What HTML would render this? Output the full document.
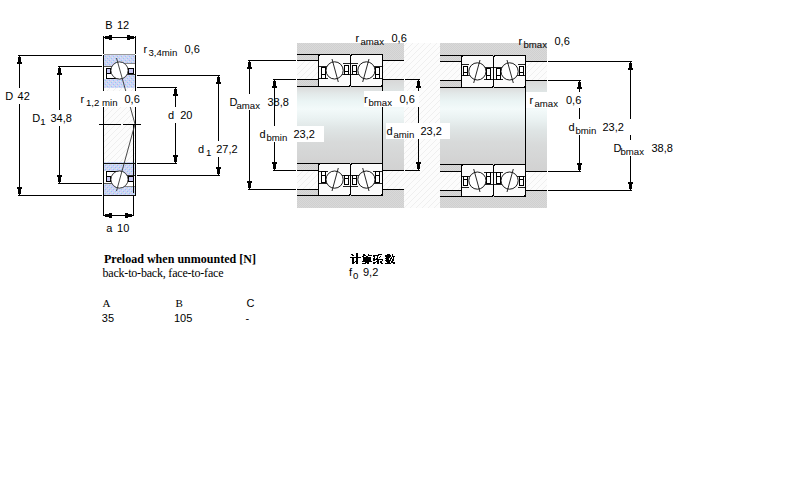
<!DOCTYPE html>
<html><head><meta charset="utf-8"><style>
html,body{margin:0;padding:0;background:#fff;width:800px;height:500px;overflow:hidden}
svg{display:block}
text{fill:#000}
</style></head><body>
<svg width="800" height="500" viewBox="0 0 800 500" shape-rendering="crispEdges">
<defs>
<pattern id="pblue" width="4" height="4" patternUnits="userSpaceOnUse">
<rect width="4" height="4" fill="#cfcff6"/><rect x="1" y="0" width="1" height="1" fill="#94cdf4"/><rect x="3" y="2" width="1" height="1" fill="#94cdf4"/><rect x="0" y="1" width="1" height="1" fill="#cdf3f0"/><rect x="2" y="3" width="1" height="1" fill="#cdf3f0"/><rect x="2" y="1" width="1" height="1" fill="#d8d6da"/>
</pattern>
<pattern id="phatch" width="6" height="6" patternUnits="userSpaceOnUse">
<rect width="6" height="6" fill="#fcfcfc"/><rect x="5" y="0" width="1" height="1" fill="#efefef"/><rect x="4" y="1" width="1" height="1" fill="#efefef"/><rect x="3" y="2" width="1" height="1" fill="#efefef"/><rect x="2" y="3" width="1" height="1" fill="#efefef"/><rect x="1" y="4" width="1" height="1" fill="#efefef"/><rect x="0" y="5" width="1" height="1" fill="#efefef"/>
</pattern>
<pattern id="pgray" width="2" height="2" patternUnits="userSpaceOnUse">
<rect width="2" height="2" fill="#d9d9d9"/><rect width="1" height="1" fill="#d0d0d0"/><rect x="1" y="1" width="1" height="1" fill="#d0d0d0"/>
</pattern>
<linearGradient id="gshaft" gradientUnits="userSpaceOnUse" x1="0" y1="87" x2="0" y2="163">
<stop offset="0" stop-color="#dadada"/><stop offset="0.08" stop-color="#e2e8e8"/><stop offset="0.18" stop-color="#eaf4f4"/><stop offset="0.29" stop-color="#f3fafa"/><stop offset="0.41" stop-color="#eaf2f2"/><stop offset="0.55" stop-color="#dfe5e5"/><stop offset="0.72" stop-color="#d8dada"/><stop offset="1" stop-color="#d2d2d2"/>
</linearGradient>
<linearGradient id="gshaft2" gradientUnits="userSpaceOnUse" x1="0" y1="80" x2="0" y2="170">
<stop offset="0" stop-color="#d8d8d8"/><stop offset="0.14" stop-color="#e0e6e6"/><stop offset="0.23" stop-color="#eaf4f4"/><stop offset="0.33" stop-color="#f3fafa"/><stop offset="0.44" stop-color="#eaf2f2"/><stop offset="0.56" stop-color="#dfe5e5"/><stop offset="0.72" stop-color="#d8dada"/><stop offset="1" stop-color="#d2d2d2"/>
</linearGradient>
</defs>
<rect x="104" y="88" width="31" height="75" fill="url(#phatch)" />
<g>
<rect x="104" y="55" width="31" height="11" fill="url(#pblue)" />
<rect x="104" y="54" width="31" height="1" fill="#999" />
<rect x="104" y="79" width="31" height="9" fill="url(#pblue)" />
<rect x="122" y="74" width="13" height="5" fill="url(#pblue)" />
<rect x="104" y="66" width="31" height="13" fill="#fff" />
<rect x="104" y="66" width="8" height="1" fill="#555" />
<rect x="125" y="63" width="10" height="1" fill="#888" />
<rect x="125" y="64" width="10" height="2" fill="#fff" />
<rect x="104" y="64" width="8" height="2" fill="url(#pblue)" />
<rect x="123" y="74" width="12" height="5" fill="url(#pblue)" />
<rect x="122" y="74" width="13" height="1" fill="#333" />
<rect x="106" y="78" width="16" height="1" fill="#000" />
<rect x="106" y="68" width="1" height="11" fill="#000" />
<rect x="106.5" y="68.5" width="4" height="5" fill="#c8c8f4" stroke="#000"/>
<rect x="128.5" y="68.5" width="5" height="5" fill="#c8c8f4" stroke="#000"/>
<circle cx="119.5" cy="70.5" r="8.6" fill="#fff" stroke="#222" stroke-width="0.9" shape-rendering="geometricPrecision"/>
</g>
<g transform="translate(0,250) scale(1,-1)">
<rect x="104" y="55" width="31" height="11" fill="url(#pblue)" />
<rect x="104" y="54" width="31" height="1" fill="#999" />
<rect x="104" y="79" width="31" height="9" fill="url(#pblue)" />
<rect x="122" y="74" width="13" height="5" fill="url(#pblue)" />
<rect x="104" y="66" width="31" height="13" fill="#fff" />
<rect x="104" y="66" width="8" height="1" fill="#555" />
<rect x="125" y="63" width="10" height="1" fill="#888" />
<rect x="125" y="64" width="10" height="2" fill="#fff" />
<rect x="104" y="64" width="8" height="2" fill="url(#pblue)" />
<rect x="123" y="74" width="12" height="5" fill="url(#pblue)" />
<rect x="122" y="74" width="13" height="1" fill="#333" />
<rect x="106" y="78" width="16" height="1" fill="#000" />
<rect x="106" y="68" width="1" height="11" fill="#000" />
<rect x="106.5" y="68.5" width="4" height="5" fill="#c8c8f4" stroke="#000"/>
<rect x="128.5" y="68.5" width="5" height="5" fill="#c8c8f4" stroke="#000"/>
<circle cx="119.5" cy="70.5" r="8.6" fill="#fff" stroke="#222" stroke-width="0.9" shape-rendering="geometricPrecision"/>
</g>
<rect x="103" y="55" width="1" height="141" fill="#000" />
<rect x="135" y="55" width="1" height="141" fill="#000" />
<rect x="133" y="124" width="1" height="69" fill="#000" />
<rect x="104" y="163" width="31" height="1" fill="#111" />
<rect x="104" y="195" width="31" height="1" fill="#111" />
<line x1="116.5" y1="58" x2="135" y2="124" stroke="#333" stroke-width="0.9" shape-rendering="geometricPrecision" />
<line x1="135" y1="124" x2="116.5" y2="191" stroke="#333" stroke-width="0.9" shape-rendering="geometricPrecision" />
<rect x="99" y="124" width="22" height="1" fill="#000" />
<rect x="123" y="124" width="18" height="1" fill="#000" />
<rect x="103" y="36" width="1" height="18" fill="#000" />
<rect x="135" y="36" width="1" height="18" fill="#000" />
<rect x="104" y="37" width="31" height="1" fill="#000" />
<rect x="104" y="37" width="1" height="1" fill="#000" />
<rect x="105" y="36" width="5" height="3" fill="#000" />
<rect x="109" y="35" width="3" height="5" fill="#000" />
<rect x="134" y="37" width="1" height="1" fill="#000" />
<rect x="129" y="36" width="5" height="3" fill="#000" />
<rect x="127" y="35" width="3" height="5" fill="#000" />
<text x="105.2" y="29" font-size="11" style='font-family:"Liberation Sans", sans-serif' >B</text>
<text x="116.9" y="29" font-size="11" style='font-family:"Liberation Sans", sans-serif' >12</text>
<text x="143.5" y="53" font-size="11" style='font-family:"Liberation Sans", sans-serif' >r</text>
<text x="148.5" y="56" font-size="9.6" style='font-family:"Liberation Sans", sans-serif' >3,4min</text>
<text x="184.5" y="53" font-size="11" style='font-family:"Liberation Sans", sans-serif' >0,6</text>
<rect x="18" y="55" width="84" height="1" fill="#000" />
<rect x="18" y="195" width="84" height="1" fill="#000" />
<rect x="19" y="56" width="1" height="139" fill="#000" />
<rect x="19" y="56" width="1" height="1" fill="#000" />
<rect x="18" y="57" width="3" height="5" fill="#000" />
<rect x="17" y="62" width="5" height="2" fill="#000" />
<rect x="19" y="194" width="1" height="1" fill="#000" />
<rect x="18" y="189" width="3" height="5" fill="#000" />
<rect x="17" y="187" width="5" height="2" fill="#000" />
<rect x="58" y="66" width="44" height="1" fill="#000" />
<rect x="58" y="183" width="44" height="1" fill="#000" />
<rect x="59" y="67" width="1" height="116" fill="#000" />
<rect x="59" y="67" width="1" height="1" fill="#000" />
<rect x="58" y="68" width="3" height="5" fill="#000" />
<rect x="57" y="73" width="5" height="2" fill="#000" />
<rect x="59" y="182" width="1" height="1" fill="#000" />
<rect x="58" y="177" width="3" height="5" fill="#000" />
<rect x="57" y="175" width="5" height="2" fill="#000" />
<rect x="137" y="87" width="40" height="1" fill="#000" />
<rect x="137" y="163" width="40" height="1" fill="#000" />
<rect x="175" y="88" width="1" height="75" fill="#000" />
<rect x="175" y="88" width="1" height="1" fill="#000" />
<rect x="174" y="89" width="3" height="5" fill="#000" />
<rect x="173" y="94" width="5" height="2" fill="#000" />
<rect x="175" y="162" width="1" height="1" fill="#000" />
<rect x="174" y="157" width="3" height="5" fill="#000" />
<rect x="173" y="155" width="5" height="2" fill="#000" />
<rect x="137" y="75" width="83" height="1" fill="#000" />
<rect x="137" y="175" width="83" height="1" fill="#000" />
<rect x="218" y="76" width="1" height="99" fill="#000" />
<rect x="218" y="76" width="1" height="1" fill="#000" />
<rect x="217" y="77" width="3" height="5" fill="#000" />
<rect x="216" y="82" width="5" height="2" fill="#000" />
<rect x="218" y="174" width="1" height="1" fill="#000" />
<rect x="217" y="169" width="3" height="5" fill="#000" />
<rect x="216" y="167" width="5" height="2" fill="#000" />
<rect x="103" y="196" width="1" height="20" fill="#000" />
<rect x="133" y="196" width="1" height="20" fill="#000" />
<rect x="104" y="215" width="29" height="1" fill="#000" />
<rect x="104" y="215" width="1" height="1" fill="#000" />
<rect x="105" y="214" width="5" height="3" fill="#000" />
<rect x="109" y="213" width="3" height="5" fill="#000" />
<rect x="132" y="215" width="1" height="1" fill="#000" />
<rect x="127" y="214" width="5" height="3" fill="#000" />
<rect x="125" y="213" width="3" height="5" fill="#000" />
<rect x="2" y="88" width="34" height="16" fill="#fff" />
<text x="5.2" y="100" font-size="11" style='font-family:"Liberation Sans", sans-serif' >D</text>
<text x="17.6" y="100" font-size="11" style='font-family:"Liberation Sans", sans-serif' >42</text>
<rect x="30" y="110" width="46" height="16" fill="#fff" />
<text x="32.2" y="122" font-size="11" style='font-family:"Liberation Sans", sans-serif' >D</text>
<text x="40.2" y="125" font-size="9.6" style='font-family:"Liberation Sans", sans-serif' >1</text>
<text x="50.5" y="122" font-size="11" style='font-family:"Liberation Sans", sans-serif' >34,8</text>
<rect x="100" y="91" width="41" height="16" fill="#fff" />
<text x="80.5" y="103" font-size="11" style='font-family:"Liberation Sans", sans-serif' >r</text>
<text x="86" y="106" font-size="9.6" style='font-family:"Liberation Sans", sans-serif' >1,2 min</text>
<text x="124.5" y="103" font-size="11" style='font-family:"Liberation Sans", sans-serif' >0,6</text>
<rect x="165" y="107" width="30" height="16" fill="#fff" />
<text x="168" y="119" font-size="11" style='font-family:"Liberation Sans", sans-serif' >d&#160;&#160;20</text>
<rect x="196" y="141" width="44" height="16" fill="#fff" />
<text x="198" y="153" font-size="11" style='font-family:"Liberation Sans", sans-serif' >d</text>
<text x="206" y="156" font-size="9.6" style='font-family:"Liberation Sans", sans-serif' >1</text>
<text x="216.2" y="153" font-size="11" style='font-family:"Liberation Sans", sans-serif' >27,2</text>
<text x="106.2" y="232" font-size="11" style='font-family:"Liberation Sans", sans-serif' >a</text>
<text x="117.1" y="232" font-size="11" style='font-family:"Liberation Sans", sans-serif' >1</text>
<text x="123.2" y="232" font-size="11" style='font-family:"Liberation Sans", sans-serif' >0</text>
<rect x="404" y="43" width="36" height="165" fill="url(#phatch)" />
<rect x="297" y="43" width="107" height="165" fill="url(#pgray)" />
<rect x="297" y="61" width="21" height="18" fill="url(#phatch)" />
<rect x="297" y="171" width="21" height="18" fill="url(#phatch)" />
<rect x="297" y="87" width="85" height="76" fill="url(#gshaft)" />
<rect x="297" y="54" width="22" height="1" fill="#000" />
<rect x="297" y="60" width="22" height="1" fill="#000" />
<rect x="297" y="79" width="22" height="1" fill="#000" />
<rect x="297" y="86" width="22" height="1" fill="#000" />
<rect x="297" y="163" width="22" height="1" fill="#000" />
<rect x="297" y="170" width="22" height="1" fill="#000" />
<rect x="297" y="189" width="22" height="1" fill="#000" />
<rect x="297" y="195" width="22" height="1" fill="#000" />
<rect x="383" y="61" width="21" height="18" fill="url(#phatch)" />
<rect x="383" y="171" width="21" height="18" fill="url(#phatch)" />
<rect x="383" y="80" width="21" height="90" fill="url(#gshaft2)" />
<rect x="382" y="60" width="22" height="1" fill="#000" />
<rect x="382" y="79" width="22" height="1" fill="#000" />
<rect x="382" y="170" width="22" height="1" fill="#000" />
<rect x="382" y="189" width="22" height="1" fill="#000" />
<rect x="382" y="54" width="1" height="142" fill="#000" />
<g >
<rect x="318.5" y="54.5" width="32" height="32" rx="2.5" fill="#fbfbfb" stroke="#000" stroke-width="1"/>
<rect x="319" y="66" width="8" height="1" fill="#222" />
<rect x="343" y="63" width="7" height="1" fill="#222" />
<rect x="319" y="78" width="9" height="1" fill="#222" />
<rect x="342" y="74" width="8" height="1" fill="#222" />
<rect x="321.5" y="67.5" width="4" height="11" fill="#fff" stroke="#000"/>
<rect x="322" y="74" width="3" height="1" fill="#000" />
<rect x="344.5" y="65.5" width="4" height="9" fill="#fff" stroke="#000"/>
<rect x="345" y="71" width="3" height="1" fill="#000" />
<circle cx="334.6" cy="70.4" r="8.6" fill="#fff" stroke="#000" stroke-width="0.9" shape-rendering="geometricPrecision"/>
<line x1="332" y1="59" x2="338.3" y2="82" stroke="#111" stroke-width="0.9" shape-rendering="geometricPrecision" />
</g>
<g transform="translate(366.5,70.5) scale(-1,1) translate(-366.5,-70.5)">
<rect x="350.5" y="54.5" width="32" height="32" rx="2.5" fill="#fbfbfb" stroke="#000" stroke-width="1"/>
<rect x="351" y="66" width="8" height="1" fill="#222" />
<rect x="375" y="63" width="7" height="1" fill="#222" />
<rect x="351" y="78" width="9" height="1" fill="#222" />
<rect x="374" y="74" width="8" height="1" fill="#222" />
<rect x="353.5" y="67.5" width="4" height="11" fill="#fff" stroke="#000"/>
<rect x="354" y="74" width="3" height="1" fill="#000" />
<rect x="376.5" y="65.5" width="4" height="9" fill="#fff" stroke="#000"/>
<rect x="377" y="71" width="3" height="1" fill="#000" />
<circle cx="366.6" cy="70.4" r="8.6" fill="#fff" stroke="#000" stroke-width="0.9" shape-rendering="geometricPrecision"/>
<line x1="364" y1="59" x2="370.3" y2="82" stroke="#111" stroke-width="0.9" shape-rendering="geometricPrecision" />
</g>
<g transform="translate(334.5,179.5) scale(1,-1) translate(-334.5,-179.5)">
<rect x="318.5" y="163.5" width="32" height="32" rx="2.5" fill="#fbfbfb" stroke="#000" stroke-width="1"/>
<rect x="319" y="175" width="8" height="1" fill="#222" />
<rect x="343" y="172" width="7" height="1" fill="#222" />
<rect x="319" y="187" width="9" height="1" fill="#222" />
<rect x="342" y="183" width="8" height="1" fill="#222" />
<rect x="321.5" y="176.5" width="4" height="11" fill="#fff" stroke="#000"/>
<rect x="322" y="183" width="3" height="1" fill="#000" />
<rect x="344.5" y="174.5" width="4" height="9" fill="#fff" stroke="#000"/>
<rect x="345" y="180" width="3" height="1" fill="#000" />
<circle cx="334.6" cy="179.4" r="8.6" fill="#fff" stroke="#000" stroke-width="0.9" shape-rendering="geometricPrecision"/>
<line x1="332" y1="168" x2="338.3" y2="191" stroke="#111" stroke-width="0.9" shape-rendering="geometricPrecision" />
</g>
<g transform="translate(366.5,179.5) scale(-1,-1) translate(-366.5,-179.5)">
<rect x="350.5" y="163.5" width="32" height="32" rx="2.5" fill="#fbfbfb" stroke="#000" stroke-width="1"/>
<rect x="351" y="175" width="8" height="1" fill="#222" />
<rect x="375" y="172" width="7" height="1" fill="#222" />
<rect x="351" y="187" width="9" height="1" fill="#222" />
<rect x="374" y="183" width="8" height="1" fill="#222" />
<rect x="353.5" y="176.5" width="4" height="11" fill="#fff" stroke="#000"/>
<rect x="354" y="183" width="3" height="1" fill="#000" />
<rect x="376.5" y="174.5" width="4" height="9" fill="#fff" stroke="#000"/>
<rect x="377" y="180" width="3" height="1" fill="#000" />
<circle cx="366.6" cy="179.4" r="8.6" fill="#fff" stroke="#000" stroke-width="0.9" shape-rendering="geometricPrecision"/>
<line x1="364" y1="168" x2="370.3" y2="191" stroke="#111" stroke-width="0.9" shape-rendering="geometricPrecision" />
</g>
<rect x="440" y="43" width="107" height="165" fill="url(#pgray)" />
<rect x="440" y="62" width="21" height="18" fill="url(#phatch)" />
<rect x="440" y="172" width="21" height="18" fill="url(#phatch)" />
<rect x="440" y="88" width="85" height="76" fill="url(#gshaft)" />
<rect x="440" y="55" width="22" height="1" fill="#000" />
<rect x="440" y="61" width="22" height="1" fill="#000" />
<rect x="440" y="80" width="22" height="1" fill="#000" />
<rect x="440" y="87" width="22" height="1" fill="#000" />
<rect x="440" y="164" width="22" height="1" fill="#000" />
<rect x="440" y="171" width="22" height="1" fill="#000" />
<rect x="440" y="190" width="22" height="1" fill="#000" />
<rect x="440" y="196" width="22" height="1" fill="#000" />
<rect x="526" y="62" width="21" height="18" fill="url(#phatch)" />
<rect x="526" y="172" width="21" height="18" fill="url(#phatch)" />
<rect x="526" y="81" width="21" height="90" fill="url(#gshaft2)" />
<rect x="525" y="61" width="22" height="1" fill="#000" />
<rect x="525" y="80" width="22" height="1" fill="#000" />
<rect x="525" y="171" width="22" height="1" fill="#000" />
<rect x="525" y="190" width="22" height="1" fill="#000" />
<rect x="525" y="55" width="1" height="142" fill="#000" />
<g transform="translate(477.5,71.5) scale(-1,1) translate(-477.5,-71.5)">
<rect x="461.5" y="55.5" width="32" height="32" rx="2.5" fill="#fbfbfb" stroke="#000" stroke-width="1"/>
<rect x="462" y="67" width="8" height="1" fill="#222" />
<rect x="486" y="64" width="7" height="1" fill="#222" />
<rect x="462" y="79" width="9" height="1" fill="#222" />
<rect x="485" y="75" width="8" height="1" fill="#222" />
<rect x="464.5" y="68.5" width="4" height="11" fill="#fff" stroke="#000"/>
<rect x="465" y="75" width="3" height="1" fill="#000" />
<rect x="487.5" y="66.5" width="4" height="9" fill="#fff" stroke="#000"/>
<rect x="488" y="72" width="3" height="1" fill="#000" />
<circle cx="477.6" cy="71.4" r="8.6" fill="#fff" stroke="#000" stroke-width="0.9" shape-rendering="geometricPrecision"/>
<line x1="475" y1="60" x2="481.3" y2="83" stroke="#111" stroke-width="0.9" shape-rendering="geometricPrecision" />
</g>
<g >
<rect x="493.5" y="55.5" width="32" height="32" rx="2.5" fill="#fbfbfb" stroke="#000" stroke-width="1"/>
<rect x="494" y="67" width="8" height="1" fill="#222" />
<rect x="518" y="64" width="7" height="1" fill="#222" />
<rect x="494" y="79" width="9" height="1" fill="#222" />
<rect x="517" y="75" width="8" height="1" fill="#222" />
<rect x="496.5" y="68.5" width="4" height="11" fill="#fff" stroke="#000"/>
<rect x="497" y="75" width="3" height="1" fill="#000" />
<rect x="519.5" y="66.5" width="4" height="9" fill="#fff" stroke="#000"/>
<rect x="520" y="72" width="3" height="1" fill="#000" />
<circle cx="509.6" cy="71.4" r="8.6" fill="#fff" stroke="#000" stroke-width="0.9" shape-rendering="geometricPrecision"/>
<line x1="507" y1="60" x2="513.3" y2="83" stroke="#111" stroke-width="0.9" shape-rendering="geometricPrecision" />
</g>
<g transform="translate(477.5,180.5) scale(-1,-1) translate(-477.5,-180.5)">
<rect x="461.5" y="164.5" width="32" height="32" rx="2.5" fill="#fbfbfb" stroke="#000" stroke-width="1"/>
<rect x="462" y="176" width="8" height="1" fill="#222" />
<rect x="486" y="173" width="7" height="1" fill="#222" />
<rect x="462" y="188" width="9" height="1" fill="#222" />
<rect x="485" y="184" width="8" height="1" fill="#222" />
<rect x="464.5" y="177.5" width="4" height="11" fill="#fff" stroke="#000"/>
<rect x="465" y="184" width="3" height="1" fill="#000" />
<rect x="487.5" y="175.5" width="4" height="9" fill="#fff" stroke="#000"/>
<rect x="488" y="181" width="3" height="1" fill="#000" />
<circle cx="477.6" cy="180.4" r="8.6" fill="#fff" stroke="#000" stroke-width="0.9" shape-rendering="geometricPrecision"/>
<line x1="475" y1="169" x2="481.3" y2="192" stroke="#111" stroke-width="0.9" shape-rendering="geometricPrecision" />
</g>
<g transform="translate(509.5,180.5) scale(1,-1) translate(-509.5,-180.5)">
<rect x="493.5" y="164.5" width="32" height="32" rx="2.5" fill="#fbfbfb" stroke="#000" stroke-width="1"/>
<rect x="494" y="176" width="8" height="1" fill="#222" />
<rect x="518" y="173" width="7" height="1" fill="#222" />
<rect x="494" y="188" width="9" height="1" fill="#222" />
<rect x="517" y="184" width="8" height="1" fill="#222" />
<rect x="496.5" y="177.5" width="4" height="11" fill="#fff" stroke="#000"/>
<rect x="497" y="184" width="3" height="1" fill="#000" />
<rect x="519.5" y="175.5" width="4" height="9" fill="#fff" stroke="#000"/>
<rect x="520" y="181" width="3" height="1" fill="#000" />
<circle cx="509.6" cy="180.4" r="8.6" fill="#fff" stroke="#000" stroke-width="0.9" shape-rendering="geometricPrecision"/>
<line x1="507" y1="169" x2="513.3" y2="192" stroke="#111" stroke-width="0.9" shape-rendering="geometricPrecision" />
</g>
<rect x="248" y="60" width="48" height="1" fill="#000" />
<rect x="248" y="189" width="48" height="1" fill="#000" />
<rect x="249" y="61" width="1" height="128" fill="#000" />
<rect x="249" y="61" width="1" height="1" fill="#000" />
<rect x="248" y="62" width="3" height="5" fill="#000" />
<rect x="247" y="67" width="5" height="2" fill="#000" />
<rect x="249" y="188" width="1" height="1" fill="#000" />
<rect x="248" y="183" width="3" height="5" fill="#000" />
<rect x="247" y="181" width="5" height="2" fill="#000" />
<rect x="273" y="79" width="23" height="1" fill="#000" />
<rect x="273" y="170" width="23" height="1" fill="#000" />
<rect x="274" y="80" width="1" height="90" fill="#000" />
<rect x="274" y="80" width="1" height="1" fill="#000" />
<rect x="273" y="81" width="3" height="5" fill="#000" />
<rect x="272" y="86" width="5" height="2" fill="#000" />
<rect x="274" y="169" width="1" height="1" fill="#000" />
<rect x="273" y="164" width="3" height="5" fill="#000" />
<rect x="272" y="162" width="5" height="2" fill="#000" />
<rect x="405" y="79" width="15" height="1" fill="#000" />
<rect x="405" y="170" width="15" height="1" fill="#000" />
<rect x="418" y="80" width="1" height="90" fill="#000" />
<rect x="418" y="80" width="1" height="1" fill="#000" />
<rect x="417" y="81" width="3" height="5" fill="#000" />
<rect x="416" y="86" width="5" height="2" fill="#000" />
<rect x="418" y="169" width="1" height="1" fill="#000" />
<rect x="417" y="164" width="3" height="5" fill="#000" />
<rect x="416" y="162" width="5" height="2" fill="#000" />
<rect x="548" y="61" width="84" height="1" fill="#000" />
<rect x="548" y="190" width="84" height="1" fill="#000" />
<rect x="630" y="62" width="1" height="128" fill="#000" />
<rect x="630" y="62" width="1" height="1" fill="#000" />
<rect x="629" y="63" width="3" height="5" fill="#000" />
<rect x="628" y="68" width="5" height="2" fill="#000" />
<rect x="630" y="189" width="1" height="1" fill="#000" />
<rect x="629" y="184" width="3" height="5" fill="#000" />
<rect x="628" y="182" width="5" height="2" fill="#000" />
<rect x="548" y="80" width="33" height="1" fill="#000" />
<rect x="548" y="171" width="33" height="1" fill="#000" />
<rect x="579" y="81" width="1" height="90" fill="#000" />
<rect x="579" y="81" width="1" height="1" fill="#000" />
<rect x="578" y="82" width="3" height="5" fill="#000" />
<rect x="577" y="87" width="5" height="2" fill="#000" />
<rect x="579" y="170" width="1" height="1" fill="#000" />
<rect x="578" y="165" width="3" height="5" fill="#000" />
<rect x="577" y="163" width="5" height="2" fill="#000" />
<text x="355.5" y="42" font-size="11" style='font-family:"Liberation Sans", sans-serif' >r</text>
<text x="360.5" y="45" font-size="9.6" style='font-family:"Liberation Sans", sans-serif' >amax</text>
<text x="391.5" y="42" font-size="11" style='font-family:"Liberation Sans", sans-serif' >0,6</text>
<rect x="229" y="94" width="35" height="16" fill="#fff" />
<text x="229.5" y="106" font-size="11" style='font-family:"Liberation Sans", sans-serif' >D</text>
<text x="236.5" y="109" font-size="9.6" style='font-family:"Liberation Sans", sans-serif' >amax</text>
<text x="267.5" y="106" font-size="11" style='font-family:"Liberation Sans", sans-serif' >38,8</text>
<rect x="259" y="126" width="65" height="16" fill="#fff" />
<text x="259.5" y="138" font-size="11" style='font-family:"Liberation Sans", sans-serif' >d</text>
<text x="266.5" y="141" font-size="9.6" style='font-family:"Liberation Sans", sans-serif' >bmin</text>
<text x="293.5" y="138" font-size="11" style='font-family:"Liberation Sans", sans-serif' >23,2</text>
<rect x="364" y="91" width="55" height="16" fill="#fff" />
<text x="364" y="103" font-size="11" style='font-family:"Liberation Sans", sans-serif' >r</text>
<text x="368.5" y="106" font-size="9.6" style='font-family:"Liberation Sans", sans-serif' >bmax</text>
<text x="399.5" y="103" font-size="11" style='font-family:"Liberation Sans", sans-serif' >0,6</text>
<rect x="386" y="123" width="64" height="16" fill="#fff" />
<text x="386.5" y="135" font-size="11" style='font-family:"Liberation Sans", sans-serif' >d</text>
<text x="393.5" y="138" font-size="9.6" style='font-family:"Liberation Sans", sans-serif' >amin</text>
<text x="420.5" y="135" font-size="11" style='font-family:"Liberation Sans", sans-serif' >23,2</text>
<text x="518.5" y="45" font-size="11" style='font-family:"Liberation Sans", sans-serif' >r</text>
<text x="523.5" y="48" font-size="9.6" style='font-family:"Liberation Sans", sans-serif' >bmax</text>
<text x="554.5" y="45" font-size="11" style='font-family:"Liberation Sans", sans-serif' >0,6</text>
<rect x="526" y="92" width="58" height="16" fill="#fff" />
<text x="529.5" y="104" font-size="11" style='font-family:"Liberation Sans", sans-serif' >r</text>
<text x="534.5" y="107" font-size="9.6" style='font-family:"Liberation Sans", sans-serif' >amax</text>
<text x="566" y="104" font-size="11" style='font-family:"Liberation Sans", sans-serif' >0,6</text>
<rect x="566" y="119" width="66" height="16" fill="#fff" />
<text x="568.5" y="131" font-size="11" style='font-family:"Liberation Sans", sans-serif' >d</text>
<text x="575.5" y="134" font-size="9.6" style='font-family:"Liberation Sans", sans-serif' >bmin</text>
<text x="602.5" y="131" font-size="11" style='font-family:"Liberation Sans", sans-serif' >23,2</text>
<rect x="612" y="140" width="64" height="16" fill="#fff" />
<text x="613.5" y="152" font-size="11" style='font-family:"Liberation Sans", sans-serif' >D</text>
<text x="620.5" y="155" font-size="9.6" style='font-family:"Liberation Sans", sans-serif' >bmax</text>
<text x="651.5" y="152" font-size="11" style='font-family:"Liberation Sans", sans-serif' >38,8</text>
<text x="104" y="263" font-size="12" style='font-family:"Liberation Serif", serif' font-weight="bold" textLength="152" lengthAdjust="spacing">Preload when unmounted [N]</text>
<text x="102.5" y="277" font-size="12" style='font-family:"Liberation Serif", serif' textLength="121" lengthAdjust="spacing">back-to-back, face-to-face</text>
<text x="102.4" y="307" font-size="11" style='font-family:"Liberation Serif", serif' >A</text>
<text x="175.5" y="307" font-size="11" style='font-family:"Liberation Serif", serif' >B</text>
<text x="246.5" y="307" font-size="11" style='font-family:"Liberation Sans", sans-serif' >C</text>
<text x="101.8" y="322" font-size="11" style='font-family:"Liberation Sans", sans-serif' >35</text>
<text x="174" y="322" font-size="11" style='font-family:"Liberation Sans", sans-serif' >105</text>
<text x="245.6" y="322" font-size="11" style='font-family:"Liberation Sans", sans-serif' >-</text>
<text x="349" y="276" font-size="11" style='font-family:"Liberation Sans", sans-serif' >f</text>
<text x="353" y="279" font-size="9.6" style='font-family:"Liberation Sans", sans-serif' >0</text>
<text x="363" y="276" font-size="11" style='font-family:"Liberation Sans", sans-serif' >9,2</text>
<rect x="356" y="253" width="2" height="1" fill="#000" />
<rect x="351" y="254" width="2" height="1" fill="#000" />
<rect x="356" y="254" width="2" height="1" fill="#000" />
<rect x="363" y="254" width="2" height="1" fill="#000" />
<rect x="368" y="254" width="1" height="1" fill="#000" />
<rect x="378" y="254" width="4" height="1" fill="#000" />
<rect x="387" y="254" width="3" height="1" fill="#000" />
<rect x="392" y="254" width="1" height="1" fill="#000" />
<rect x="352" y="255" width="2" height="1" fill="#000" />
<rect x="356" y="255" width="2" height="1" fill="#000" />
<rect x="363" y="255" width="3" height="1" fill="#000" />
<rect x="368" y="255" width="4" height="1" fill="#000" />
<rect x="373" y="255" width="6" height="1" fill="#000" />
<rect x="385" y="255" width="6" height="1" fill="#000" />
<rect x="392" y="255" width="1" height="1" fill="#000" />
<rect x="356" y="256" width="2" height="1" fill="#000" />
<rect x="362" y="256" width="2" height="1" fill="#000" />
<rect x="366" y="256" width="2" height="1" fill="#000" />
<rect x="373" y="256" width="2" height="1" fill="#000" />
<rect x="377" y="256" width="1" height="1" fill="#000" />
<rect x="380" y="256" width="1" height="1" fill="#000" />
<rect x="385" y="256" width="6" height="1" fill="#000" />
<rect x="392" y="256" width="3" height="1" fill="#000" />
<rect x="350" y="257" width="11" height="1" fill="#000" />
<rect x="363" y="257" width="8" height="1" fill="#000" />
<rect x="374" y="257" width="1" height="1" fill="#000" />
<rect x="377" y="257" width="1" height="1" fill="#000" />
<rect x="379" y="257" width="1" height="1" fill="#000" />
<rect x="386" y="257" width="4" height="1" fill="#000" />
<rect x="391" y="257" width="1" height="1" fill="#000" />
<rect x="393" y="257" width="1" height="1" fill="#000" />
<rect x="352" y="258" width="2" height="1" fill="#000" />
<rect x="356" y="258" width="2" height="1" fill="#000" />
<rect x="363" y="258" width="8" height="1" fill="#000" />
<rect x="373" y="258" width="2" height="1" fill="#000" />
<rect x="376" y="258" width="2" height="1" fill="#000" />
<rect x="385" y="258" width="4" height="1" fill="#000" />
<rect x="390" y="258" width="2" height="1" fill="#000" />
<rect x="393" y="258" width="1" height="1" fill="#000" />
<rect x="352" y="259" width="2" height="1" fill="#000" />
<rect x="356" y="259" width="2" height="1" fill="#000" />
<rect x="363" y="259" width="8" height="1" fill="#000" />
<rect x="373" y="259" width="10" height="1" fill="#000" />
<rect x="386" y="259" width="3" height="1" fill="#000" />
<rect x="390" y="259" width="1" height="1" fill="#000" />
<rect x="392" y="259" width="2" height="1" fill="#000" />
<rect x="352" y="260" width="2" height="1" fill="#000" />
<rect x="356" y="260" width="2" height="1" fill="#000" />
<rect x="363" y="260" width="8" height="1" fill="#000" />
<rect x="373" y="260" width="2" height="1" fill="#000" />
<rect x="377" y="260" width="2" height="1" fill="#000" />
<rect x="382" y="260" width="1" height="1" fill="#000" />
<rect x="385" y="260" width="6" height="1" fill="#000" />
<rect x="392" y="260" width="2" height="1" fill="#000" />
<rect x="352" y="261" width="2" height="1" fill="#000" />
<rect x="355" y="261" width="3" height="1" fill="#000" />
<rect x="362" y="261" width="10" height="1" fill="#000" />
<rect x="376" y="261" width="3" height="1" fill="#000" />
<rect x="380" y="261" width="2" height="1" fill="#000" />
<rect x="386" y="261" width="4" height="1" fill="#000" />
<rect x="391" y="261" width="2" height="1" fill="#000" />
<rect x="352" y="262" width="3" height="1" fill="#000" />
<rect x="356" y="262" width="2" height="1" fill="#000" />
<rect x="365" y="262" width="4" height="1" fill="#000" />
<rect x="373" y="262" width="3" height="1" fill="#000" />
<rect x="377" y="262" width="2" height="1" fill="#000" />
<rect x="380" y="262" width="2" height="1" fill="#000" />
<rect x="387" y="262" width="3" height="1" fill="#000" />
<rect x="391" y="262" width="4" height="1" fill="#000" />
<rect x="352" y="263" width="2" height="1" fill="#000" />
<rect x="356" y="263" width="2" height="1" fill="#000" />
<rect x="362" y="263" width="4" height="1" fill="#000" />
<rect x="367" y="263" width="2" height="1" fill="#000" />
<rect x="373" y="263" width="2" height="1" fill="#000" />
<rect x="377" y="263" width="2" height="1" fill="#000" />
<rect x="381" y="263" width="2" height="1" fill="#000" />
<rect x="385" y="263" width="6" height="1" fill="#000" />
<rect x="393" y="263" width="2" height="1" fill="#000" />
</svg></body></html>
